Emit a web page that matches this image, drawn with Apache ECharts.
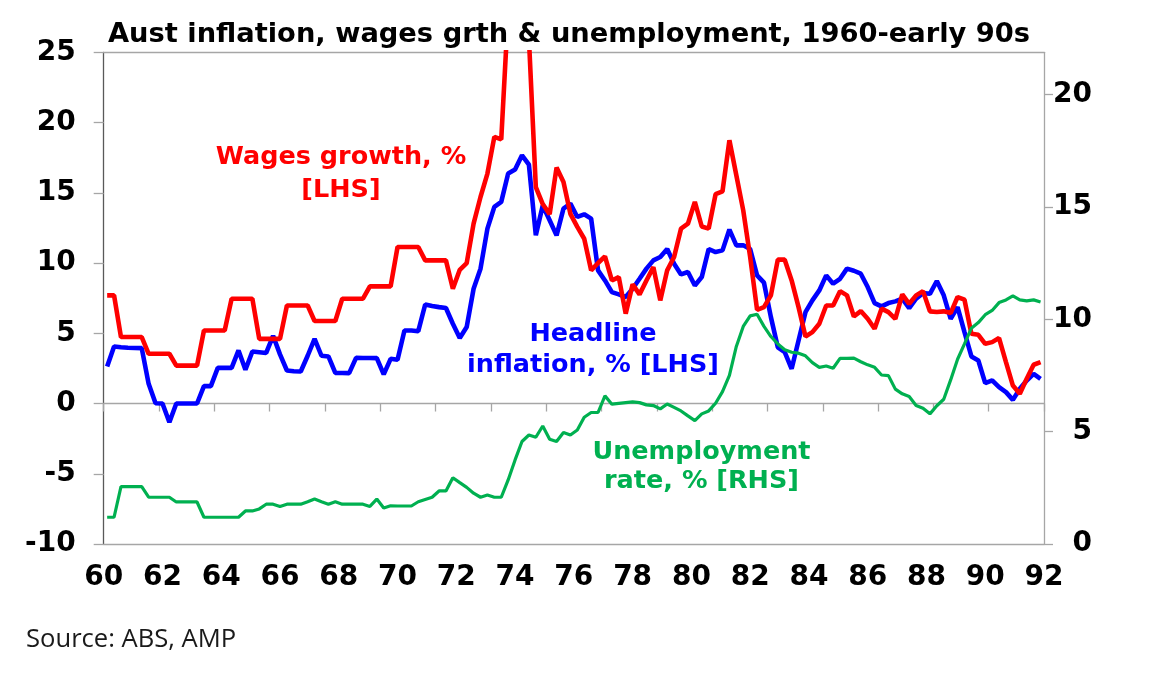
<!DOCTYPE html>
<html>
<head>
<meta charset="utf-8">
<title>Aust inflation, wages growth & unemployment</title>
<script src="https://cdn.jsdelivr.net/npm/echarts@6/dist/echarts.min.js"></script>
<style>
  html, body { margin: 0; padding: 0; background: #fff; }
  #chart { width: 1157px; height: 675px; }
</style>
</head>
<body>
<div id="chart"></div>
<script>
// quarterly values, 1960 Q1 .. 1993 Q4 (8 quarters per row)
const wages = [
  7.7, 7.7, 4.73, 4.73, 4.73, 4.73, 3.54, 3.54,
  3.54, 3.54, 2.7, 2.7, 2.7, 2.7, 5.2, 5.2,
  5.2, 5.2, 7.46, 7.46, 7.46, 7.46, 4.6, 4.6,
  4.6, 4.6, 6.98, 6.98, 6.98, 6.98, 5.87, 5.87,
  5.87, 5.87, 7.46, 7.46, 7.46, 7.46, 8.34, 8.34,
  8.34, 8.34, 11.14, 11.14, 11.14, 11.14, 10.19, 10.19,
  10.19, 10.19, 8.17, 9.52, 10.0, 12.8, 14.7, 16.37,
  18.98, 18.8, 28, 31, 30, 26, 15.4, 14.2,
  13.47, 16.8, 15.77, 13.5, 12.57, 11.73, 9.48, 10.0,
  10.47, 8.76, 9.0, 6.4, 8.48, 7.77, 8.76, 9.71,
  7.34, 9.48, 10.43, 12.45, 12.8, 14.35, 12.6, 12.45,
  14.9, 15.1, 18.74, 16.25, 13.75, 10.43, 6.67, 6.86,
  7.7, 10.24, 10.24, 8.76, 6.86, 4.77, 5.08, 5.68,
  6.98, 6.98, 8.0, 7.7, 6.2, 6.58, 6.03, 5.32,
  6.75, 6.51, 6.03, 7.77, 7.1, 7.7, 8.0, 6.56,
  6.51, 6.56, 6.44, 7.58, 7.39, 4.96, 4.89, 4.25,
  4.37, 4.66, 2.95, 1.28, 0.69, 1.76, 2.76, 2.95
];

const inflation = [
  2.64, 4.06, 4.0, 3.97, 3.95, 3.94, 1.4, 0.02,
  0, -1.33, 0, 0, 0, 0, 1.24, 1.24,
  2.54, 2.54, 2.54, 3.78, 2.4, 3.7, 3.65, 3.6,
  4.82, 3.5, 2.35, 2.3, 2.28, 3.4, 4.6, 3.4,
  3.35, 2.18, 2.17, 2.16, 3.25, 3.24, 3.24, 3.23,
  2.07, 3.18, 3.12, 5.2, 5.2, 5.15, 7.05, 6.94,
  6.86, 6.8, 5.68, 4.66, 5.44, 8.17, 9.6, 12.45,
  14.0, 14.35, 16.37, 16.65, 17.67, 17.0, 11.97, 14.1,
  13.04, 11.97, 13.87, 14.23, 13.28, 13.47, 13.16, 9.48,
  8.76, 7.93, 7.77, 7.58, 8.17, 8.88, 9.6, 10.19,
  10.43, 11.0, 9.95, 9.19, 9.36, 8.4, 9.0, 11.0,
  10.78, 10.9, 12.38, 11.26, 11.26, 11.0, 9.12, 8.6,
  6.15, 4.0, 3.66, 2.47, 4.49, 6.5, 7.34, 8.05,
  9.12, 8.53, 8.88, 9.6, 9.45, 9.24, 8.29, 7.15,
  6.91, 7.15, 7.27, 7.46, 6.79, 7.46, 7.86, 7.81,
  8.72, 7.7, 6.03, 6.86, 5.08, 3.35, 3.06, 1.45,
  1.64, 1.16, 0.81, 0.26, 1.05, 1.64, 2.11, 1.76
];

const unemployment = [
  1.19, 1.19, 2.55, 2.55, 2.55, 2.55, 2.08, 2.08,
  2.08, 2.08, 1.87, 1.87, 1.87, 1.87, 1.19, 1.19,
  1.19, 1.19, 1.19, 1.19, 1.47, 1.47, 1.56, 1.77,
  1.77, 1.67, 1.77, 1.77, 1.77, 1.88, 2.0, 1.88,
  1.77, 1.88, 1.77, 1.77, 1.77, 1.77, 1.67, 2.0,
  1.6, 1.7, 1.69, 1.69, 1.69, 1.88, 1.98, 2.08,
  2.36, 2.36, 2.95, 2.73, 2.52, 2.26, 2.08, 2.18,
  2.08, 2.08, 2.85, 3.74, 4.56, 4.85, 4.75, 5.25,
  4.66, 4.56, 4.96, 4.85, 5.07, 5.64, 5.85, 5.85,
  6.59, 6.22, 6.26, 6.29, 6.32, 6.29, 6.19, 6.16,
  6.01, 6.23, 6.08, 5.92, 5.7, 5.49, 5.79, 5.92,
  6.26, 6.78, 7.5, 8.79, 9.68, 10.15, 10.22, 9.68,
  9.23, 8.9, 8.64, 8.53, 8.49, 8.37, 8.07, 7.86,
  7.92, 7.82, 8.26, 8.26, 8.27, 8.11, 7.97, 7.86,
  7.52, 7.49, 6.89, 6.68, 6.56, 6.16, 6.04, 5.79,
  6.15, 6.44, 7.3, 8.22, 8.9, 9.6, 9.85, 10.2,
  10.39, 10.74, 10.86, 11.04, 10.86, 10.82, 10.86, 10.77
];

const yearLabels = ['60', '62', '64', '66', '68', '70', '72', '74', '76',
  '78', '80', '82', '84', '86', '88', '90', '92'];

const START_YEAR = 1960;
const END_YEAR = 1994;

// quarter i plotted at the middle of the quarter
const toPoints = arr => arr.map((v, i) => [START_YEAR + (i + 0.5) / 4, v]);

const BOLD = '"DejaVu Sans", "Liberation Sans", Arial, sans-serif';
const GREY = '#a6a6a6';

const chart = echarts.init(document.getElementById('chart'), null, { renderer: 'canvas' });

const option = {
  animation: false,
  backgroundColor: '#fff',
  grid: {
    left: 103.7,
    right: 113,
    top: 52.3,
    bottom: 131
  },
  xAxis: [
    {
      // time axis for the data, line sits on the LHS zero
      type: 'value',
      min: START_YEAR,
      max: END_YEAR,
      interval: 2,
      axisLine: { show: true, onZero: true, onZeroAxisIndex: 0, lineStyle: { color: GREY, width: 1.3 } },
      axisTick: { show: true, length: 8, lineStyle: { color: GREY, width: 1.3 } },
      axisLabel: { show: false },
      splitLine: { show: false }
    },
    {
      // year labels along the bottom
      type: 'category',
      data: yearLabels,
      boundaryGap: false,
      position: 'bottom',
      axisLine: { show: true, onZero: false, lineStyle: { color: GREY, width: 1.3 } },
      axisTick: { show: false },
      axisLabel: {
        interval: 0,
        margin: 20,
        color: '#000',
        fontFamily: BOLD,
        fontWeight: 'bold',
        fontSize: 28
      },
      splitLine: { show: false }
    },
    {
      // top border
      type: 'value',
      position: 'top',
      min: 0,
      max: 1,
      axisLine: { show: true, onZero: false, lineStyle: { color: GREY, width: 1.3 } },
      axisTick: { show: false },
      axisLabel: { show: false },
      splitLine: { show: false }
    }
  ],
  yAxis: [
    {
      type: 'value',
      position: 'left',
      min: -10,
      max: 25,
      interval: 5,
      axisLine: { show: true, lineStyle: { color: '#595959', width: 1.3 } },
      axisTick: { show: true, inside: false, length: 10, lineStyle: { color: GREY, width: 1.3 } },
      axisLabel: {
        margin: 28,
        color: '#000',
        fontFamily: BOLD,
        fontWeight: 'bold',
        fontSize: 28
      },
      splitLine: { show: false }
    },
    {
      type: 'value',
      position: 'right',
      min: 0,
      max: 21.875,
      interval: 5,
      axisLine: { show: true, lineStyle: { color: GREY, width: 1.3 } },
      axisTick: { show: true, inside: false, length: 9, lineStyle: { color: GREY, width: 1.3 } },
      axisLabel: {
        align: 'right',
        margin: 48,
        showMaxLabel: false,
        color: '#000',
        fontFamily: BOLD,
        fontWeight: 'bold',
        fontSize: 28
      },
      splitLine: { show: false }
    }
  ],
  series: [
    {
      name: 'Headline inflation, % [LHS]',
      type: 'line',
      xAxisIndex: 0,
      yAxisIndex: 0,
      data: toPoints(inflation),
      showSymbol: false,
      lineStyle: { color: '#0000ff', width: 4.6 },
      z: 3
    },
    {
      name: 'Wages growth, % [LHS]',
      type: 'line',
      xAxisIndex: 0,
      yAxisIndex: 0,
      data: toPoints(wages),
      showSymbol: false,
      lineStyle: { color: '#ff0000', width: 4.6 },
      z: 4
    },
    {
      name: 'Unemployment rate, % [RHS]',
      type: 'line',
      xAxisIndex: 0,
      yAxisIndex: 1,
      data: toPoints(unemployment),
      showSymbol: false,
      lineStyle: { color: '#00b050', width: 3.2 },
      z: 5
    }
  ],
  graphic: [
    {
      type: 'text', x: 569, y: 35,
      style: { text: 'Aust inflation, wages grth & unemployment, 1960-early 90s', fill: '#000',
        font: 'bold 27.3px ' + BOLD, textAlign: 'center', textVerticalAlign: 'middle' }
    },
    {
      type: 'text', x: 341, y: 157,
      style: { text: 'Wages growth, %', fill: '#ff0000',
        font: 'bold 25.5px ' + BOLD, textAlign: 'center', textVerticalAlign: 'middle' }
    },
    {
      type: 'text', x: 341, y: 190,
      style: { text: '[LHS]', fill: '#ff0000',
        font: 'bold 25.5px ' + BOLD, textAlign: 'center', textVerticalAlign: 'middle' }
    },
    {
      type: 'text', x: 593, y: 334,
      style: { text: 'Headline', fill: '#0000ff',
        font: 'bold 25.5px ' + BOLD, textAlign: 'center', textVerticalAlign: 'middle' }
    },
    {
      type: 'text', x: 593, y: 365,
      style: { text: 'inflation, % [LHS]', fill: '#0000ff',
        font: 'bold 25.5px ' + BOLD, textAlign: 'center', textVerticalAlign: 'middle' }
    },
    {
      type: 'text', x: 701.5, y: 452.5,
      style: { text: 'Unemployment', fill: '#00b050',
        font: 'bold 25.5px ' + BOLD, textAlign: 'center', textVerticalAlign: 'middle' }
    },
    {
      type: 'text', x: 701.5, y: 481,
      style: { text: 'rate, % [RHS]', fill: '#00b050',
        font: 'bold 25.5px ' + BOLD, textAlign: 'center', textVerticalAlign: 'middle' }
    },
    {
      type: 'text', x: 26, y: 640,
      style: { text: 'Source: ABS, AMP', fill: '#1a1a1a',
        font: '25.6px "Open Sans", "Noto Sans", sans-serif', textAlign: 'left', textVerticalAlign: 'middle' }
    }
  ]
};

chart.setOption(option);
</script>
</body>
</html>
